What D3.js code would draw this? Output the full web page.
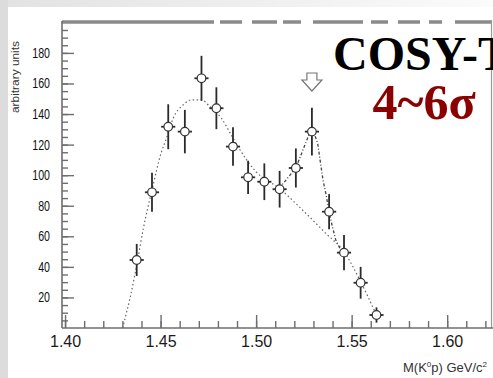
<!DOCTYPE html>
<html>
<head>
<meta charset="utf-8">
<script src="https://cdn.jsdelivr.net/npm/d3@7"></script>
<style>
  html, body { margin: 0; padding: 0; background: #fff; }
  svg { display: block; }
</style>
</head>
<body>
<svg id="chart" width="493" height="378"></svg>
<script>
// K0p invariant-mass spectrum: data points with errors, fitted background and peak curves
const massBins = [1.4375, 1.4455, 1.4540, 1.4627, 1.4714, 1.4792, 1.4879, 1.4958,
                  1.5043, 1.5123, 1.5208, 1.5292, 1.5382, 1.5460, 1.5547, 1.5630];
const counts   = [44.5, 88.8, 131.7, 128.5, 163.4, 143.8, 118.7, 98.6,
                  95.7, 90.8, 104.7, 128.5, 76.1, 49.3, 29.6, 8.5];
const errors   = [10.5, 12.8, 14.7, 14.2, 14.7, 13.7, 12.6, 10.9,
                  12.0, 12.0, 12.8, 15.6, 11.5, 11.5, 10.4, 5.0];
const binHalfWidth = 0.0037;

// background fit, sampled along the drawn curve
const bgMass  = [1.4302, 1.4314, 1.4340, 1.4375, 1.4410, 1.4453, 1.4505, 1.4531, 1.4566,
                 1.4618, 1.4661, 1.4714, 1.4757, 1.4818, 1.4870, 1.4906, 1.5000, 1.5121,
                 1.5243, 1.5365, 1.5460, 1.5547, 1.5630];
const bgCount = [0, 6.3, 19.5, 41.2, 65.3, 89.2, 115.4, 124.2, 137.3,
                 146.0, 149.3, 149.3, 145.0, 137.3, 126.3, 118.5, 102.2, 91.4,
                 77.2, 61.9, 49.9, 30.3, 8.5];

// peak + background fit around 1.53 GeV
const peakMass  = [1.5121, 1.5208, 1.5292, 1.5322, 1.5350, 1.5368, 1.5382, 1.5399, 1.5417, 1.5443, 1.5460];
const peakCount = [91.4, 104.7, 131.5, 120.9, 96.9, 86.0, 76.1, 66.3, 57.6, 51.0, 49.9];

const arrowMass = 1.5292;

const xMajorTicks = [1.40, 1.45, 1.50, 1.55, 1.60];
const xTickLabels = ["1.40", "1.45", "1.50", "1.55", "1.60"];
const yMajorTicks = [20, 40, 60, 80, 100, 120, 140, 160, 180];

const svg = d3.select("#chart");

// slide backdrop
const defs = svg.append("defs");
const topGrad = defs.append("linearGradient").attr("id", "topGrad")
  .attr("x1", "0").attr("x2", "1").attr("y1", "0").attr("y2", "0");
topGrad.append("stop").attr("offset", "0").attr("stop-color", "#e2e2e2");
topGrad.append("stop").attr("offset", "0.8").attr("stop-color", "#f6f6f6");
topGrad.append("stop").attr("offset", "1").attr("stop-color", "#fbfbfb");
svg.append("rect").attr("x", 0).attr("y", 0).attr("width", 493).attr("height", 7).attr("fill", "url(#topGrad)");
svg.append("rect").attr("x", 0).attr("y", 0).attr("width", 8).attr("height", 378).attr("fill", "#dcdcdc");

const x = d3.scaleLinear().domain([1.3984, 1.6233]).range([62, 491.7]);
const y = d3.scaleLinear().domain([0, 196.3]).range([328, 28]);

const axisColor = "#6e6e6e";

// frame top band
svg.append("line").attr("x1", 62).attr("x2", 214).attr("y1", 22).attr("y2", 22)
  .attr("stroke", "#8a8a8a").attr("stroke-width", 3.5);
svg.append("line").attr("x1", 220).attr("x2", 491).attr("y1", 22).attr("y2", 22)
  .attr("stroke", "#8a8a8a").attr("stroke-width", 3.5)
  .attr("stroke-dasharray", "22,10,25,6,18,12,50,8,17,10,22,9,13,13,40");
// right frame edge
svg.append("line").attr("x1", 491.5).attr("x2", 491.5).attr("y1", 20).attr("y2", 328)
  .attr("stroke", "#9a9a9a").attr("stroke-width", 1.2);

// x axis
const xMinor = d3.range(140, 163).map(d => d / 100);
const gx = svg.append("g").attr("transform", "translate(0,328)");
gx.append("g").call(d3.axisBottom(x).tickValues(xMinor).tickSizeInner(-7).tickSizeOuter(0).tickFormat(""))
  .call(g => g.select(".domain").remove());
gx.append("g").call(d3.axisBottom(x).tickValues(xMajorTicks).tickSizeInner(-13).tickSizeOuter(0)
    .tickPadding(8).tickFormat((d, i) => xTickLabels[i]))
  .call(g => g.select(".domain").remove());
gx.selectAll("line").attr("stroke", axisColor).attr("stroke-width", 1.4);
gx.selectAll("text").attr("fill", "#1a1a1a").style("font-family", "Arial, 'Liberation Sans', sans-serif")
  .style("font-size", "16px");
gx.append("line").attr("x1", 62).attr("x2", 493).attr("stroke", axisColor).attr("stroke-width", 1.6);

// y axis
const yMinor = d3.range(5, 200, 5);
const gy = svg.append("g").attr("transform", "translate(62,0)");
gy.append("g").call(d3.axisLeft(y).tickValues(yMinor).tickSizeInner(-6).tickSizeOuter(0).tickFormat(""))
  .call(g => g.select(".domain").remove());
gy.append("g").call(d3.axisLeft(y).tickValues(yMajorTicks).tickSizeInner(-12).tickSizeOuter(0).tickPadding(12))
  .call(g => g.select(".domain").remove());
gy.selectAll("line").attr("stroke", axisColor).attr("stroke-width", 1.4);
gy.selectAll("text").attr("fill", "#111").style("font-family", "Arial, 'Liberation Sans', sans-serif")
  .style("font-size", "14px")
  .attr("textLength", function () { return this.textContent.length * 5.9; })
  .attr("lengthAdjust", "spacingAndGlyphs");
gy.append("line").attr("y1", 21).attr("y2", 328).attr("stroke", axisColor).attr("stroke-width", 1.6);

// axis titles
svg.append("text")
  .attr("transform", "translate(19,77) rotate(-90)")
  .attr("text-anchor", "middle")
  .style("font-family", "Arial, 'Liberation Sans', sans-serif")
  .style("font-size", "11px").attr("fill", "#333")
  .attr("textLength", 72).attr("lengthAdjust", "spacingAndGlyphs")
  .text("arbitrary units");

const xTitle = svg.append("text").attr("x", 403).attr("y", 372)
  .style("font-family", "Arial, 'Liberation Sans', sans-serif")
  .style("font-size", "13px").attr("fill", "#333");
xTitle.append("tspan").text("M(K");
xTitle.append("tspan").attr("dy", -5).style("font-size", "8px").text("0");
xTitle.append("tspan").attr("dy", 5).text("p) GeV/c");
xTitle.append("tspan").attr("dy", -5).style("font-size", "8px").text("2");

// fit curves
const bgLine = d3.line().x(d => x(d[0])).y(d => y(d[1])).curve(d3.curveMonotoneX);
svg.append("path").datum(d3.zip(bgMass, bgCount))
  .attr("d", bgLine).attr("fill", "none")
  .attr("stroke", "#666").attr("stroke-width", 1.2).attr("stroke-dasharray", "1.5,2.5");

const peakLine = d3.line().x(d => x(d[0])).y(d => y(d[1])).curve(d3.curveLinear);
svg.append("path").datum(d3.zip(peakMass, peakCount))
  .attr("d", peakLine).attr("fill", "none")
  .attr("stroke", "#444").attr("stroke-width", 1.3).attr("stroke-dasharray", "3,2,1,2");

// data points
const pts = svg.append("g").selectAll("g").data(d3.range(massBins.length)).join("g");
pts.append("line")
  .attr("x1", i => x(massBins[i])).attr("x2", i => x(massBins[i]))
  .attr("y1", i => y(counts[i] + errors[i])).attr("y2", i => y(counts[i] - errors[i]))
  .attr("stroke", "#2a2a2a").attr("stroke-width", 1.8);
pts.append("line")
  .attr("x1", i => x(massBins[i] - binHalfWidth)).attr("x2", i => x(massBins[i] + binHalfWidth))
  .attr("y1", i => y(counts[i])).attr("y2", i => y(counts[i]))
  .attr("stroke", "#2a2a2a").attr("stroke-width", 1.8);
pts.append("circle")
  .attr("cx", i => x(massBins[i])).attr("cy", i => y(counts[i])).attr("r", 4.3)
  .attr("fill", "#fff").attr("stroke", "#333").attr("stroke-width", 1.2);

// hollow arrow marking the peak
const ax = x(arrowMass), aTop = 73;
svg.append("path")
  .attr("d", `M${ax - 5},${aTop} L${ax + 5},${aTop} L${ax + 5},${aTop + 7} L${ax + 10},${aTop + 7}
              L${ax},${aTop + 18} L${ax - 10},${aTop + 7} L${ax - 5},${aTop + 7} Z`)
  .attr("fill", "#fff").attr("stroke", "#777").attr("stroke-width", 1.2);

// annotations
svg.append("text").attr("x", 333).attr("y", 70)
  .style("font-family", "'Liberation Serif', 'Times New Roman', serif")
  .style("font-weight", "bold").style("font-size", "48px").attr("fill", "#000")
  .text("COSY-T");
svg.append("text").attr("x", 424).attr("y", 119).attr("text-anchor", "middle")
  .style("font-family", "'Liberation Serif', 'Times New Roman', serif")
  .style("font-weight", "bold").style("font-size", "50px").attr("fill", "#8b0000")
  .text("4~6σ");
</script>
</body>
</html>
